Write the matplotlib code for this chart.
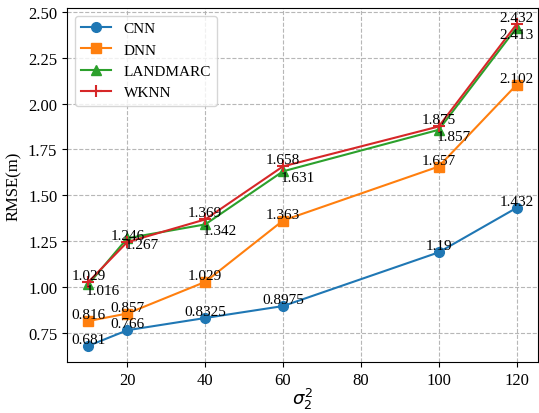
import matplotlib
matplotlib.use("Agg")
import matplotlib.pyplot as plt

plt.rcParams["font.family"] = ["Liberation Serif", "DejaVu Serif"]
plt.rcParams["mathtext.fontset"] = "dejavusans"

# dados
x = [10, 20, 40, 60, 100, 120]
cnn = [0.681, 0.766, 0.8325, 0.8975, 1.19, 1.432]
dnn = [0.816, 0.857, 1.029, 1.363, 1.657, 2.102]
landmarc = [1.016, 1.267, 1.342, 1.631, 1.857, 2.413]
wknn = [1.029, 1.246, 1.369, 1.658, 1.875, 2.432]

cnn_lbl = ["0.681", "0.766", "0.8325", "0.8975", "1.19", "1.432"]
dnn_lbl = ["0.816", "0.857", "1.029", "1.363", "1.657", "2.102"]
lm_lbl = ["1.016", "1.267", "1.342", "1.631", "1.857", "2.413"]
wk_lbl = ["1.029", "1.246", "1.369", "1.658", "1.875", "2.432"]

fig = plt.figure(figsize=(5.39, 4.14), dpi=100)
ax = fig.add_axes([67 / 539, 1 - 363 / 414, (538 - 67) / 539, (363 - 9) / 414])

ax.plot(x, cnn, marker="o", color="#1f77b4", lw=1.5, ms=7, label="CNN")
ax.plot(x, dnn, marker="s", color="#ff7f0e", lw=1.5, ms=7, label="DNN")
ax.plot(x, landmarc, marker="^", color="#2ca02c", lw=1.5, ms=7, label="LANDMARC")
ax.plot(x, wknn, marker="+", color="#d62728", lw=1.5, ms=8, mew=1.5, label="WKNN")

fs = 11
for xi, yi, t in zip(x, cnn, cnn_lbl):
    ax.text(xi, yi, t, ha="center", va="bottom", fontsize=fs)
for xi, yi, t in zip(x, dnn, dnn_lbl):
    ax.text(xi, yi, t, ha="center", va="bottom", fontsize=fs)
for xi, yi, t in zip(x, wknn, wk_lbl):
    ax.text(xi, yi, t, ha="center", va="bottom", fontsize=fs)
for i, (xi, yi, t) in enumerate(zip(x, landmarc, lm_lbl)):
    ha = "center" if i == len(x) - 1 else "left"
    ax.text(xi - (0 if ha == "center" else 0.6), yi, t, ha=ha, va="top", fontsize=fs)

ax.set_xticks([20, 40, 60, 80, 100, 120])
ax.set_yticks([0.75, 1.00, 1.25, 1.50, 1.75, 2.00, 2.25, 2.50])
ax.set_xlim(4.5, 125.5)
ax.set_ylim(0.593, 2.52)
ax.tick_params(labelsize=12)
ax.grid(True, linestyle="--", color="#b0b0b0", alpha=0.9)
ax.set_xlabel(r"$\sigma_2^2$", fontsize=13, labelpad=-1)
ax.set_ylabel("RMSE(m)", fontsize=12)
ax.legend(loc="upper left", fontsize=11)

fig.savefig("out.png", dpi=100)
